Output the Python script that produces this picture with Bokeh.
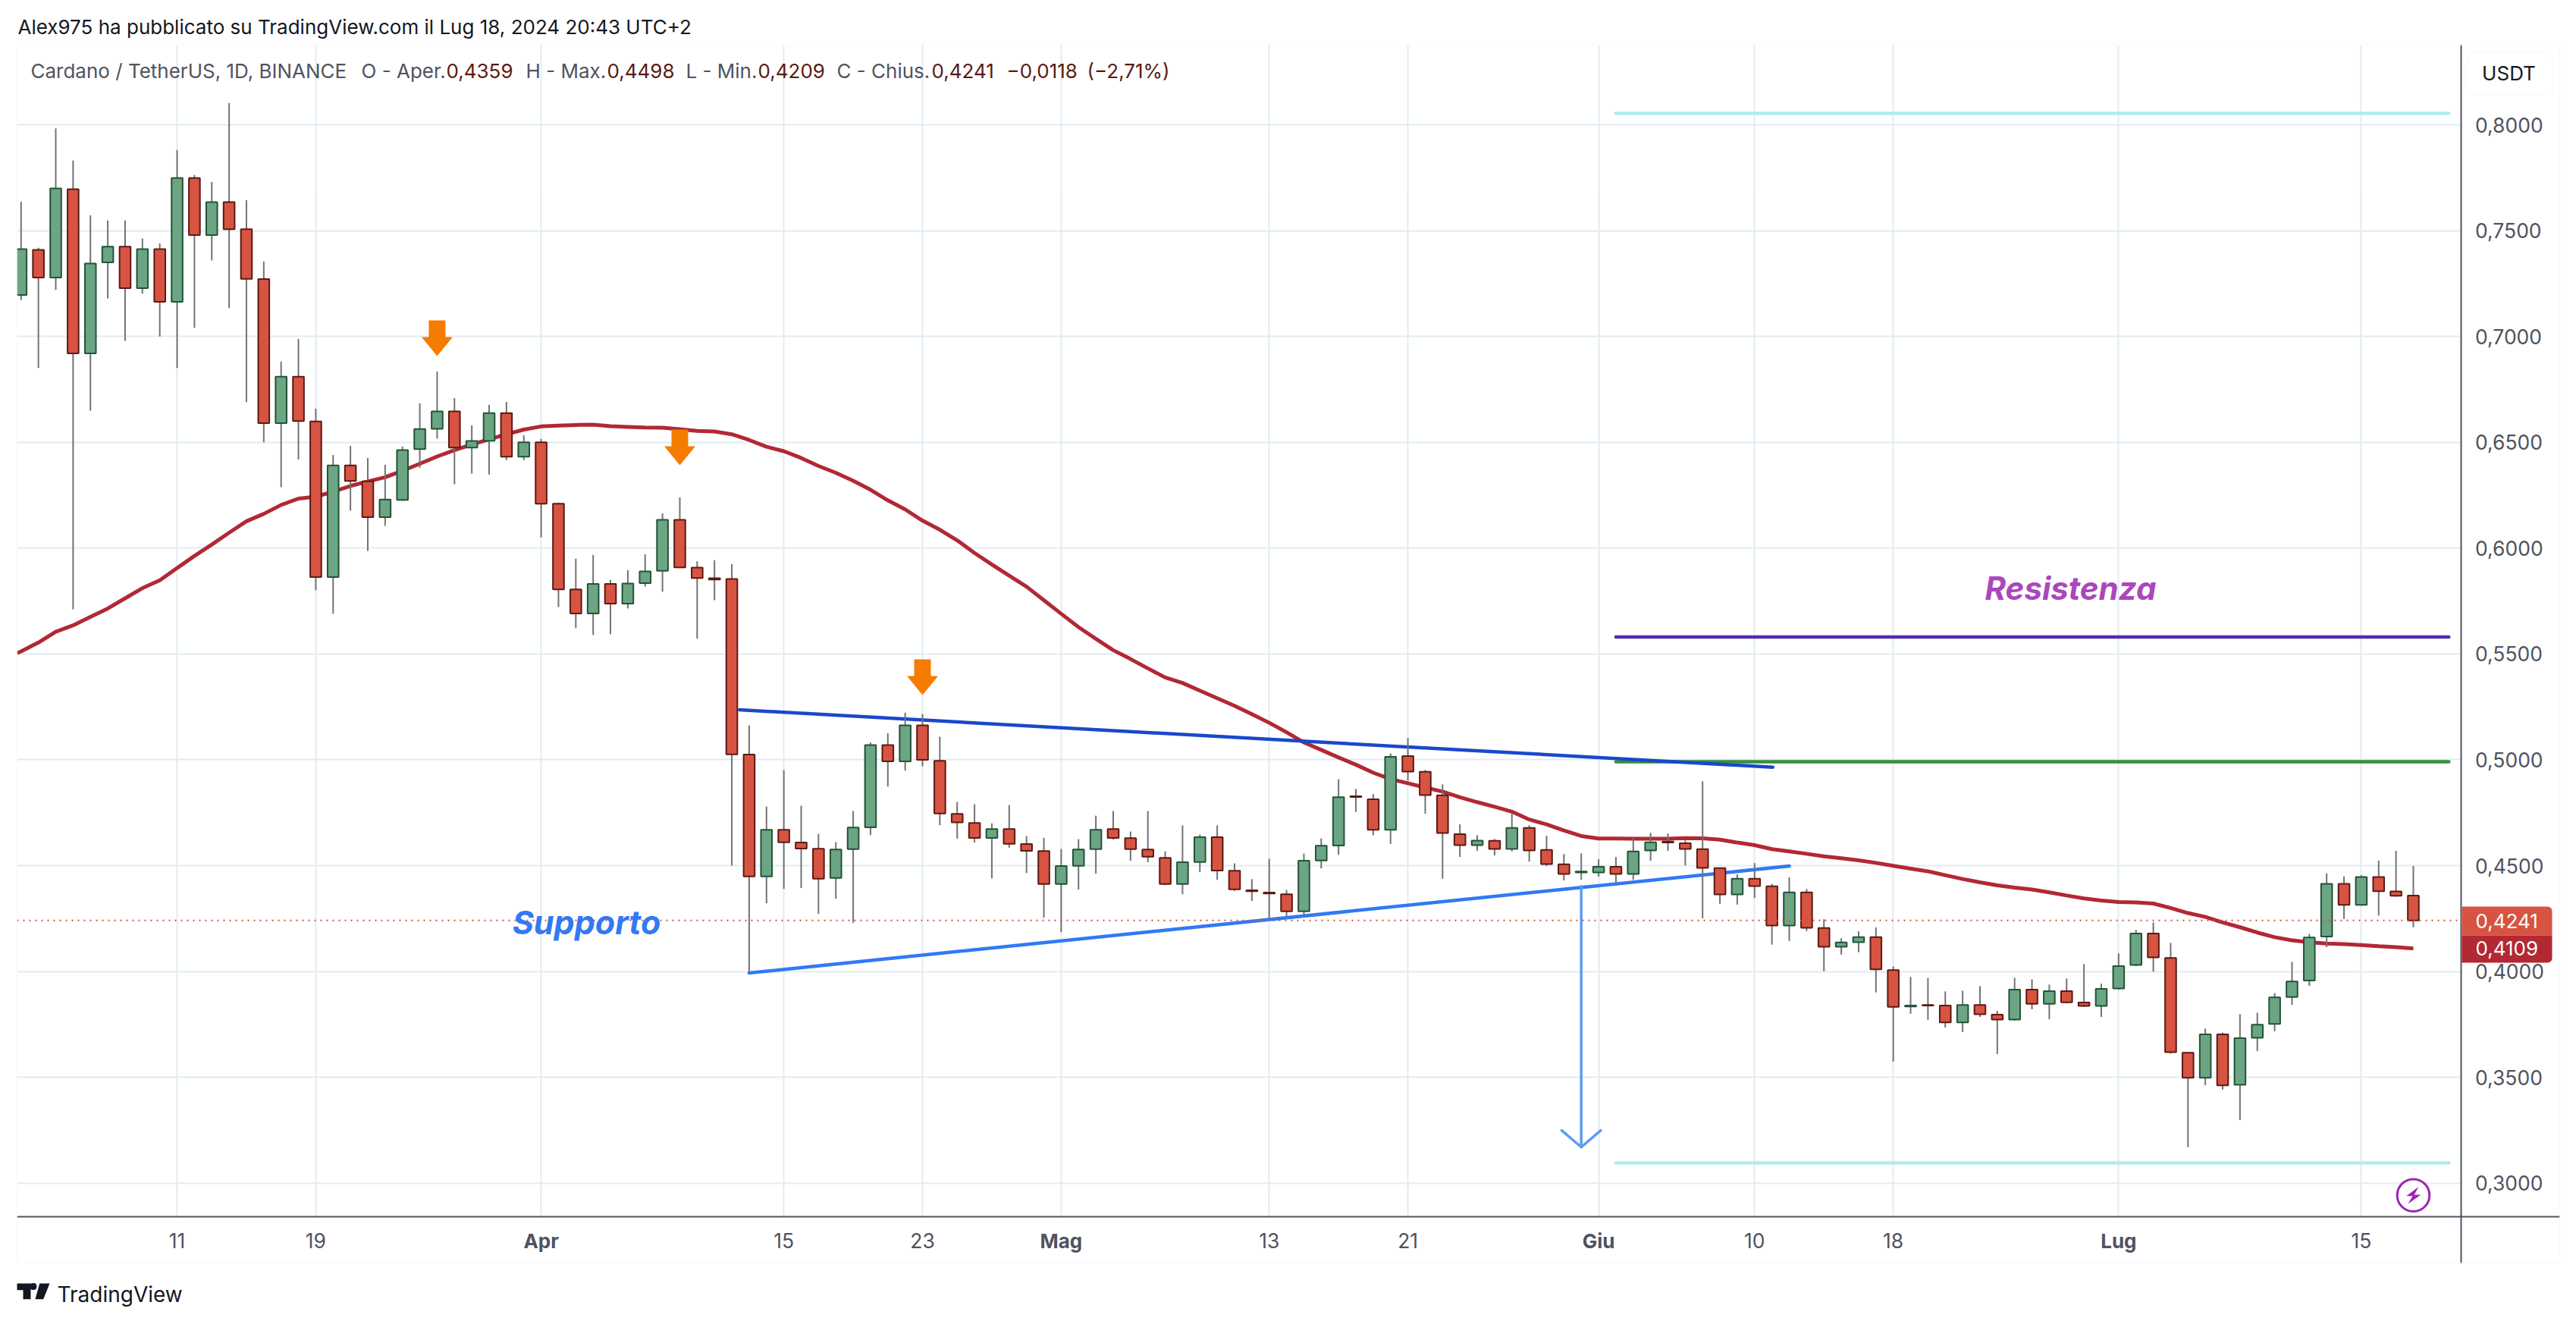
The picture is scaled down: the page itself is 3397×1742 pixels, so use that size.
from bokeh.plotting import figure
from bokeh.embed import file_html
from bokeh.resources import INLINE
from bokeh.models import (ColumnDataSource, Range1d, FixedTicker, Label, BoxAnnotation,
                          PolyAnnotation)

# ---- data -------------------------------------------------------------
open_ = [.7196,.7409,.7278,.7696,.692,.735,.7424,.7228,.7413,.7164,
         .7749,.7479,.7635,.7507,.7271,.6591,.681,.6599,.5863,.6391,
         .6316,.6146,.6228,.6468,.6564,.6646,.6475,.6507,.6638,.6432,
         .65,.621,.5805,.5691,.5831,.5738,.5835,.5893,.6134,.5908,
         .5858,.5854,.5025,.4449,.4669,.4609,.458,.4442,.4578,.4681,
         .507,.4993,.5163,.4995,.4745,.4702,.4631,.4673,.4602,.4569,
         .4413,.4499,.4578,.4673,.463,.4576,.4537,.4413,.4517,.4634,
         .4476,.4384,.4373,.4365,.4284,.4524,.4595,.4828,.4814,.4669,
         .5018,.4943,.4832,.4649,.4597,.4617,.4579,.4678,.4574,.4506,
         .4468,.4468,.4495,.4461,.4572,.4614,.4606,.4578,.4488,.4364,
         .4438,.4402,.4217,.4374,.4205,.4117,.4138,.4162,.4007,.3835,
         .3842,.3839,.3759,.3842,.3796,.3773,.3914,.3847,.3907,.3853,
         .3837,.392,.4031,.4179,.4064,.3616,.3498,.3703,.3465,.3687,
         .3752,.3879,.3957,.4165,.4414,.4315,.4446,.4378,.4359]
high = [.7637,.7419,.7983,.7831,.7572,.7548,.7548,.7462,.744,.7881,
        .7763,.773,.8103,.7644,.7354,.6881,.6988,.6659,.644,.6483,
        .6426,.6394,.648,.6684,.6834,.6709,.658,.6677,.6691,.6533,
        .6516,.6215,.595,.5968,.585,.5896,.5971,.6165,.624,.5938,
        .5943,.5925,.5162,.4779,.4951,.4783,.465,.4611,.4758,.5082,
        .5126,.5223,.5216,.5109,.4801,.479,.47,.4786,.464,.4632,
        .4579,.4625,.4736,.4758,.4661,.4758,.4568,.469,.4647,.469,
        .4511,.4436,.4532,.4385,.4557,.4629,.4908,.4862,.4838,.503,
        .5103,.4952,.4884,.4695,.4644,.4626,.4746,.4691,.4641,.4555,
        .4558,.453,.4541,.463,.4655,.4652,.4619,.4899,.4492,.4459,
        .4512,.4414,.4444,.439,.4247,.4157,.419,.4208,.4024,.3974,
        .397,.3906,.3909,.3931,.3813,.397,.3963,.3938,.3967,.4035,
        .3942,.4085,.4196,.4232,.4135,.3618,.373,.3711,.3798,.3805,
        .3898,.4045,.4178,.4463,.4449,.4455,.4524,.457,.4498]
low = [.7172,.6851,.7220,.5711,.6649,.718,.6979,.7202,.70,.6851,
       .7041,.7359,.7134,.669,.65,.6288,.6419,.5801,.569,.6177,
       .5987,.6105,.6223,.6379,.6517,.6302,.6352,.6348,.6416,.6416,
       .6051,.5722,.5622,.559,.5593,.5715,.5819,.5794,.5905,.5572,
       .5754,.45,.3993,.4322,.439,.4394,.4272,.4344,.4229,.4644,
       .4874,.4949,.4969,.4691,.4627,.4609,.444,.4585,.4465,.4254,
       .4186,.4387,.4462,.4623,.4523,.4516,.4408,.4365,.4469,.4433,
       .438,.4333,.4247,.4259,.4259,.4487,.4551,.4754,.4644,.4603,
       .4901,.4745,.4438,.4541,.457,.4548,.4567,.4519,.4498,.443,
       .4433,.4448,.4406,.4433,.4523,.457,.4501,.4251,.432,.4316,
       .4347,.4127,.4144,.4191,.4001,.408,.4091,.3901,.3574,.38,
       .3771,.3735,.3714,.3785,.361,.3767,.3821,.3774,.3849,.3832,
       .3785,.3914,.4025,.3999,.3612,.317,.3463,.3442,.3298,.3624,
       .3717,.3842,.3932,.4115,.4248,.4311,.4264,.4353,.4209]
close = [.7413,.7278,.7699,.692,.7345,.7424,.7228,.7413,.7164,.7749,
         .7479,.7635,.7507,.7272,.6591,.681,.66,.5863,.6391,.6317,
         .6146,.623,.6463,.6563,.6646,.6475,.6506,.6638,.6432,.65,
         .621,.5805,.5691,.5831,.5738,.5833,.589,.6134,.5909,.5859,
         .5852,.5026,.4449,.4669,.461,.4581,.4438,.4576,.468,.507,
         .4993,.5163,.5,.4746,.4704,.4631,.4673,.4603,.457,.4413,
         .4498,.4576,.4669,.4631,.4578,.4542,.4413,.4516,.4634,.4477,
         .4388,.4379,.4368,.4284,.4523,.4594,.4823,.4824,.4669,.5014,
         .4944,.4833,.4654,.4597,.4618,.4579,.4678,.4572,.4507,.4461,
         .4472,.4495,.4461,.4567,.461,.4609,.4579,.4489,.4364,.4438,
         .4403,.4217,.4374,.4206,.4117,.4137,.4162,.401,.3833,.3839,
         .3839,.3759,.3842,.3798,.3773,.3914,.3847,.3907,.3854,.3837,
         .3918,.4025,.4179,.4067,.3619,.3498,.3703,.3462,.3685,.3749,
         .3878,.3953,.4161,.4414,.4315,.4446,.4379,.4358,.4241]
ma = [.5504,
      .5512,.5554,.5605,.5635,.5675,.5715,.5763,.5811,.5848,.5906,
      .5963,.6017,.6073,.6127,.6162,.6204,.6234,.6243,.6267,.6294,
      .6315,.6335,.6365,.6399,.6433,.6463,.649,.6514,.6538,.656,
      .6575,.6579,.6582,.6583,.6576,.6573,.657,.6569,.6562,.6554,
      .6551,.6538,.6511,.6479,.6458,.6426,.6388,.6356,.6318,.6276,
      .6226,.6183,.613,.6087,.6037,.5977,.5923,.587,.5818,.5754,
      .569,.5627,.5572,.5518,.5476,.5432,.5389,.5363,.5327,.5291,
      .5255,.5216,.5175,.513,.5082,.5047,.5011,.4977,.4939,.4909,
      .4889,.4869,.485,.4823,.48,.4778,.4755,.4718,.4695,.4666,
      .464,.4628,.4628,.4627,.4627,.4627,.463,.4629,.4623,.4609,
      .4597,.4578,.4567,.4556,.4544,.4535,.4525,.4513,.4499,.4486,
      .4473,.4455,.4437,.4421,.4407,.4396,.4387,.4374,.4359,.4345,
      .4335,.4328,.4326,.4321,.43,.4276,.4258,.4232,.4209,.4184,
      .4162,.4147,.4138,.4132,.4129,.4125,.4119,.4115,.4109]

price_ticks = [0.30, 0.35, 0.40, 0.45, 0.50, 0.55, 0.60, 0.65, 0.70, 0.75, 0.80]
price_labels = ["0,3000", "0,3500", "0,4000", "0,4500", "0,5000", "0,5500",
                "0,6000", "0,6500", "0,7000", "0,7500", "0,8000"]
# day index (0 = 2 March 2024)
date_ticks = [9, 17, 30, 44, 52, 60, 72, 80, 91, 100, 108, 121, 135]
date_labels = ["11", "19", "Apr", "15", "23", "Mag", "13", "21", "Giu", "10", "18", "Lug", "15"]
month_labels = {"Apr", "Mag", "Giu", "Lug"}

last_price = 0.4241
ma_last = 0.4109
arrow_days = [24, 38, 52]
arrow_tips = [0.6908, 0.6392, 0.5306]
resist_top_x, resist_top_y = [92, 140.05], [0.8054, 0.8054]
resist_low_x, resist_low_y = [92, 140.05], [0.3096, 0.3096]
purple_x, purple_y = [92, 140.05], [0.558, 0.558]
green_x, green_y = [92, 140.05], [0.4991, 0.4991]
wedge_top_x, wedge_top_y = [41.45, 101.05], [0.5236, 0.4965]
wedge_low_x, wedge_low_y = [42.0, 102.0], [0.3993, 0.4498]
target_x, target_y = [90, 90], [0.4403, 0.317]
target_head_x, target_head_y = [88.87, 90, 91.13], [0.3249, 0.317, 0.3249]

# ---- layout constants (page pixels) ------------------------------------
CW, CH = 3389, 1734
L, T, R, B = 22, 59, 3244, 1604      # plot pane
OR, OB = 3375, 1665                  # outer frame
X0, DX = 27.3, 22.86
PY = 2791.2

def xv(px):
    return (px - X0) / DX

def yv(py):
    return 0.3 + (1559.7 - py) / PY

def sx(px):
    return px

def sy(py):
    return CH - py

GRID = "#e1ecf2"
AXIS = "#50535e"
FONT = "Inter"

p = figure(width=CW, height=CH, frame_width=CW, frame_height=CH,
           x_range=Range1d(xv(0), xv(CW)), y_range=Range1d(yv(CH), yv(0)),
           x_axis_location="below", y_axis_location="right",
           min_border_left=0, min_border_top=0, min_border_right=0, min_border_bottom=0,
           toolbar_location=None, output_backend="svg",
           background_fill_color="white", border_fill_color="white")
p.outline_line_color = None

xa, ya = p.xaxis[0], p.yaxis[0]
xa.fixed_location = yv(B)
xa.bounds = (xv(L), xv(OR))
ya.fixed_location = xv(R + 0.5)
ya.bounds = (yv(OB), yv(T))
xa.ticker = FixedTicker(ticks=date_ticks)
xa.major_label_overrides = {t: ("" if s in month_labels else s) for t, s in zip(date_ticks, date_labels)}
ya.ticker = FixedTicker(ticks=price_ticks)
ya.major_label_overrides = dict(zip(price_ticks, price_labels))
for ax in (xa, ya):
    ax.axis_line_color = AXIS
    ax.axis_line_width = 2
    ax.major_tick_line_color = None
    ax.minor_tick_line_color = None
    ax.major_label_text_font = FONT
    ax.major_label_text_font_size = "26.5px"
    ax.major_label_text_color = AXIS
xa.major_label_standoff = 15
ya.major_label_standoff = 13
p.xgrid.grid_line_color = GRID
p.ygrid.grid_line_color = GRID
p.xgrid.grid_line_width = 2
p.ygrid.grid_line_width = 2
p.xgrid.cross_bounds = (yv(B), yv(T))
p.ygrid.cross_bounds = (xv(L), xv(R))

# ---- moving average and drawings (under the candles) -------------------
ma_days = [xv(L)] + list(range(139))
p.line(ma_days, ma, line_color="#b22833", line_width=5)

def hline(xs, ys, color, width=4.5):
    p.line(xs, ys, line_color=color, line_width=width, line_cap="round")

hline(resist_top_x, resist_top_y, "#b2ebf2")
hline(resist_low_x, resist_low_y, "#b2ebf2")
hline(purple_x, purple_y, "#512da8")
hline(green_x, green_y, "#388e3c")
hline(wedge_top_x, wedge_top_y, "#1848cc")
hline(wedge_low_x, wedge_low_y, "#3179f5")
hline(target_x, target_y, "#5b9cf6", 3.5)
hline(target_head_x, target_head_y, "#5b9cf6", 3.5)

# orange arrows
pxx, pxy = 1 / DX, 1 / PY
axs, ays = [], []
for d, tip in zip(arrow_days, arrow_tips):
    axs.append([d, d - 20.5 * pxx, d - 11 * pxx, d - 11 * pxx, d + 11 * pxx, d + 11 * pxx, d + 20.5 * pxx])
    ays.append([tip, tip + 25 * pxy, tip + 25 * pxy, tip + 47 * pxy, tip + 47 * pxy, tip + 25 * pxy, tip + 25 * pxy])
p.patches(axs, ays, fill_color="#f57c00", line_color=None)

# ---- candles ------------------------------------------------------------
UP_F, UP_B, DN_F, DN_B = "#6ba583", "#225437", "#d75442", "#5b1a13"
days = list(range(len(close)))
src = ColumnDataSource(dict(
    day=days, o=open_, h=high, l=low, c=close,
    top=[max(a, b) for a, b in zip(open_, close)],
    bot=[min(a, b) for a, b in zip(open_, close)],
    fill=[UP_F if c >= o else DN_F for o, c in zip(open_, close)],
    edge=[UP_B if c >= o else DN_B for o, c in zip(open_, close)],
))
p.segment("day", "h", "day", "l", source=src, line_color="#737375", line_width=2)
p.vbar(x="day", top="top", bottom="bot", width=14.6 / DX, source=src,
       fill_color="fill", line_color="edge", line_width=2)

# last-price dotted line
p.line([xv(L), xv(R)], [last_price, last_price], line_color="#d75442",
       line_width=2, line_dash="2 6")

# lightning icon
icon_x, icon_y = xv(3182), yv(1575.7)
p.scatter([icon_x], [icon_y], marker="circle", size=42.6, fill_color="white",
          line_color="#9c27b0", line_width=3)
bolt = [(20, -33), (-28, 3), (-3, 3), (-21, 34), (30, -2), (4, -2)]
p.patch([icon_x + a / 3 * pxx for a, b in bolt], [icon_y - b / 3 * pxy for a, b in bolt],
        fill_color="#9c27b0", line_color=None)

# ---- screen-space furniture ---------------------------------------------
def box(l, t, r, b, **kw):
    p.add_layout(BoxAnnotation(left=sx(l), right=sx(r), top=sy(t), bottom=sy(b),
                               left_units="screen", right_units="screen",
                               top_units="screen", bottom_units="screen", **kw))

def text(txt, x, y, size=26, color=AXIS, align="left", style="normal"):
    p.add_layout(Label(x=sx(x), y=sy(y), x_units="screen", y_units="screen", text=txt,
                       text_font=FONT, text_font_size=f"{size}px", text_color=color,
                       text_align=align, text_baseline="middle", text_font_style=style))

box(0, T, L, B, fill_color="white", fill_alpha=1, line_alpha=0)       # pane clip on the left
box(L, T, OR, OB, fill_alpha=0, line_color="#f0f3fa", line_width=2)

for t, s in zip(date_ticks, date_labels):
    if s in month_labels:
        p.add_layout(Label(x=t, y=sy(1636), x_units="data", y_units="screen", text=s,
                           text_font=FONT, text_font_size="26px", text_color=AXIS,
                           text_align="center", text_baseline="middle", text_font_style="bold"))

# header, legend
text("Alex975 ha pubblicato su TradingView.com il Lug 18, 2024 20:43 UTC+2", 23, 35, color="#131722")
VAL = "#5b1a13"
for s, x, c in [("Cardano / TetherUS, 1D, BINANCE", 40, AXIS),
                ("O - Aper.", 476, AXIS), ("0,4359", 588, VAL),
                ("H - Max.", 693, AXIS), ("0,4498", 800, VAL),
                ("L - Min.", 904, AXIS), ("0,4209", 999, VAL),
                ("C - Chius.", 1103, AXIS), ("0,4241", 1228, VAL),
                ("\u22120,0118", 1327, VAL), ("(\u22122,71%)", 1433, VAL)]:
    text(s, x, 93, color=c)

# USDT button
box(3252, 68, 3367, 124, fill_color="white", fill_alpha=1, line_color="#eceef4", line_width=2, border_radius=12)
text("USDT", 3308, 96, color="#131722", align="center")

# price tags
box(R + 2, 1195, 3365, 1233, fill_color="#d75442", fill_alpha=1, line_alpha=0, border_radius=dict(top_left=0, top_right=6, bottom_right=0, bottom_left=0))
box(R + 2, 1233, 3365, 1269, fill_color="#b22833", fill_alpha=1, line_alpha=0, border_radius=dict(top_left=0, top_right=0, bottom_right=6, bottom_left=0))
text("0,4241", 3264, 1214, color="white")
text("0,4109", 3264, 1250, color="white")

# drawing labels
text("Supporto", 773, 1215, size=43, color="#3179f5", align="center", style="bold italic")
text("Resistenza", 2730, 775, size=42, color="#ab47bc", align="center", style="bold italic")

# TradingView logo
p.add_layout(PolyAnnotation(xs=[sx(v) for v in [22, 40, 40, 30, 30, 22]],
                            ys=[sy(v) for v in [1692, 1692, 1712.7, 1712.7, 1700.7, 1700.7]],
                            xs_units="screen", ys_units="screen",
                            fill_color="#131722", fill_alpha=1, line_alpha=0))
p.add_layout(PolyAnnotation(xs=[sx(v) for v in [51.7, 65, 56.7, 46]],
                            ys=[sy(v) for v in [1692, 1692, 1712.7, 1712.7]],
                            xs_units="screen", ys_units="screen",
                            fill_color="#131722", fill_alpha=1, line_alpha=0))
box(39, 1691.6, 47.8, 1700.4, fill_color="#131722", fill_alpha=1, line_alpha=0, border_radius=4)
text("TradingView", 75, 1706, size=28, color="#131722")

assert len(open_) == len(high) == len(low) == len(close) == 139 and len(ma) == 140

open("out.html", "w").write(file_html(p, INLINE))
